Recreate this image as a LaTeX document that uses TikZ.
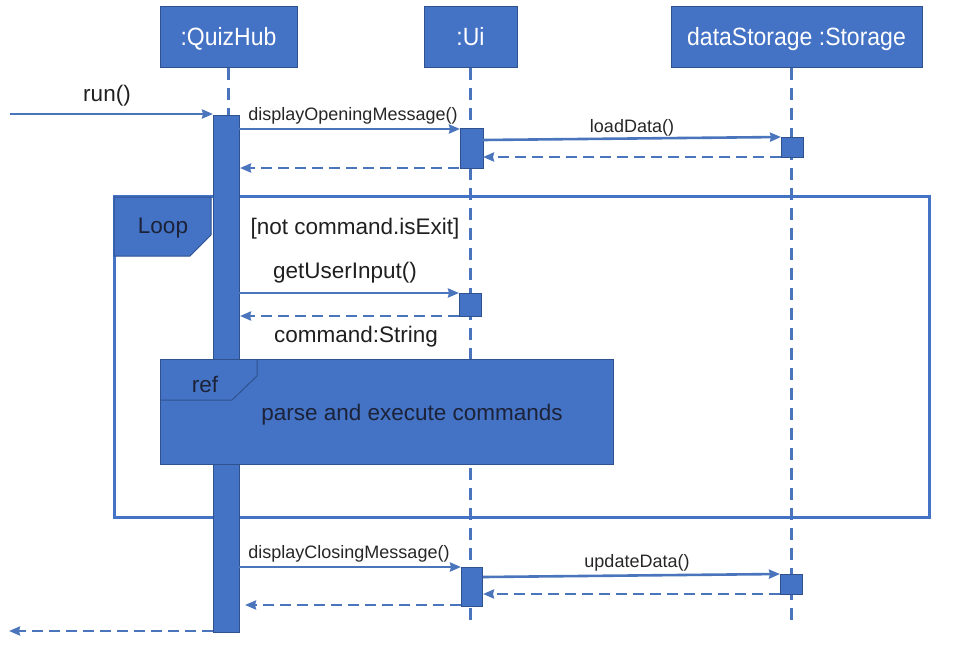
\documentclass[tikz,border=0pt]{standalone}
\usepackage{fontspec}
\setmainfont{Liberation Sans}
\usetikzlibrary{arrows.meta}
\definecolor{fillb}{HTML}{4472C4}
\definecolor{edgeb}{HTML}{2F528F}
\definecolor{lineb}{HTML}{4A74BC}
\definecolor{txtd}{HTML}{1C2238}
\newcommand{\hdrtxt}[1]{\scalebox{0.92}[1]{#1}}
\begin{document}
\begin{tikzpicture}[x=1pt,y=-1pt,
 hdr/.style={draw=edgeb,fill=fillb,line width=1pt,text=white,font=\fontsize{25}{28}\selectfont,inner sep=0pt,text height=22pt,text depth=4pt},
 act/.style={draw=edgeb,fill=fillb,line width=1pt,inner sep=0pt},
 life/.style={draw=lineb,line width=3pt,dash pattern=on 12pt off 8pt},
 msg/.style={draw=lineb,line width=2.6pt,-{Stealth[length=11pt,width=9pt,inset=1pt]}},
 ret/.style={msg,dash pattern=on 11pt off 6pt},
 lbl/.style={font=\fontsize{18}{21}\selectfont,text=black!85,inner sep=0pt,anchor=base},
 big/.style={font=\fontsize{22.5}{26}\selectfont,text=black!88,inner sep=0pt,anchor=base},
 tag/.style={font=\fontsize{22.5}{26}\selectfont,text=txtd,inner sep=0pt,anchor=base},
 frame/.style={draw=fillb,line width=3pt},
 tab/.style={draw=edgeb,fill=fillb,line width=1pt},
]
\useasboundingbox (0,0) rectangle (957,656);
% headers
\node[hdr,minimum width=137pt,minimum height=61pt] (qh) at (228.5,36.5) {\hdrtxt{:QuizHub}};
\node[hdr,minimum width=93pt,minimum height=61pt] (ui) at (470.5,36.5) {\hdrtxt{:Ui}};
\node[hdr,minimum width=251pt,minimum height=61pt] (st) at (796.5,36.5) {\hdrtxt{dataStorage :Storage}};
% lifeline ends
\coordinate (qend) at (228,625);
\coordinate (uend) at (470,626);
\coordinate (send) at (791,626);
\draw[life] (qh.south -| qend) -- (qend);
\draw[life] (ui.south -| uend) -- (uend);
\draw[life] (st.south -| send) -- (send);
% loop frame
\node[frame,minimum width=815pt,minimum height=321pt,inner sep=0pt] (loop) at (521.5,356.5) {};
\draw[tab] (114,197) -- (211,197) -- (211,235) -- (190,256) -- (114,256) -- cycle;
\node[tag] (looptxt) at (163,233) {Loop};
\node[big] (guard) at (355,234) {[not command.isExit]};
% activation bars
\node[act,minimum width=26pt,minimum height=517pt] (qa) at (226,373.5) {};
\node[act,minimum width=23pt,minimum height=40pt] (ua1) at (471.5,148) {};
\node[act,minimum width=22pt,minimum height=20pt] (sa1) at (792,147) {};
\node[act,minimum width=22pt,minimum height=23pt] (ua2) at (470,304.5) {};
\node[act,minimum width=21pt,minimum height=39pt] (ua3) at (471.5,586.5) {};
\node[act,minimum width=22pt,minimum height=20pt] (sa2) at (791,584) {};
% ref frame
\node[draw=edgeb,fill=fillb,line width=1pt,minimum width=453pt,minimum height=105pt,inner sep=0pt] (ref) at (386.5,411.5) {};
\draw[edgeb,line width=1pt] (160,400) -- (232,400) -- (257,376) -- (257,359);
\node[tag] (reftxt) at (205,392) {ref};
\node[tag] (reflbl) at (412,420) {parse and execute commands};
% messages
\coordinate (runs) at (10,114);
\coordinate (rune) at (213,114);
\draw[msg] (runs) -- (rune);
\node[big] (runl) at (107,101) {run()};
\coordinate (m1s) at (239,129);
\coordinate (m1e) at (460,129);
\draw[msg] (m1s) -- (m1e);
\node[lbl] (m1l) at (353,120) {displayOpeningMessage()};
\coordinate (m2s) at (483,140);
\coordinate (m2e) at (781,137);
\draw[msg] (m2s) -- (m2e);
\node[lbl] (m2l) at (632,132) {loadData()};
\coordinate (r2s) at (781,157);
\coordinate (r2e) at (483,157);
\draw[ret] (r2s) -- (r2e);
\coordinate (r1s) at (459,168);
\coordinate (r1e) at (240,168);
\draw[ret] (r1s) -- (r1e);
\coordinate (m3s) at (239,293);
\coordinate (m3e) at (459,293);
\draw[msg] (m3s) -- (m3e);
\node[big] (m3l) at (345,278) {getUserInput()};
\coordinate (r3s) at (459,316);
\coordinate (r3e) at (240,316);
\draw[ret] (r3s) -- (r3e);
\node[big] (r3l) at (356,342) {command:String};
\coordinate (m4s) at (239,567);
\coordinate (m4e) at (461,567);
\draw[msg] (m4s) -- (m4e);
\node[lbl] (m4l) at (349,558) {displayClosingMessage()};
\coordinate (m5s) at (483,577);
\coordinate (m5e) at (780,574);
\draw[msg] (m5s) -- (m5e);
\node[lbl] (m5l) at (637,567) {updateData()};
\coordinate (r5s) at (780,594);
\coordinate (r5e) at (483,594);
\draw[ret] (r5s) -- (r5e);
\coordinate (r4s) at (461,605);
\coordinate (r4e) at (245,605);
\draw[ret] (r4s) -- (r4e);
\coordinate (r6s) at (213,631);
\coordinate (r6e) at (9,631);
\draw[ret] (r6s) -- (r6e);
\end{tikzpicture}
\end{document}
